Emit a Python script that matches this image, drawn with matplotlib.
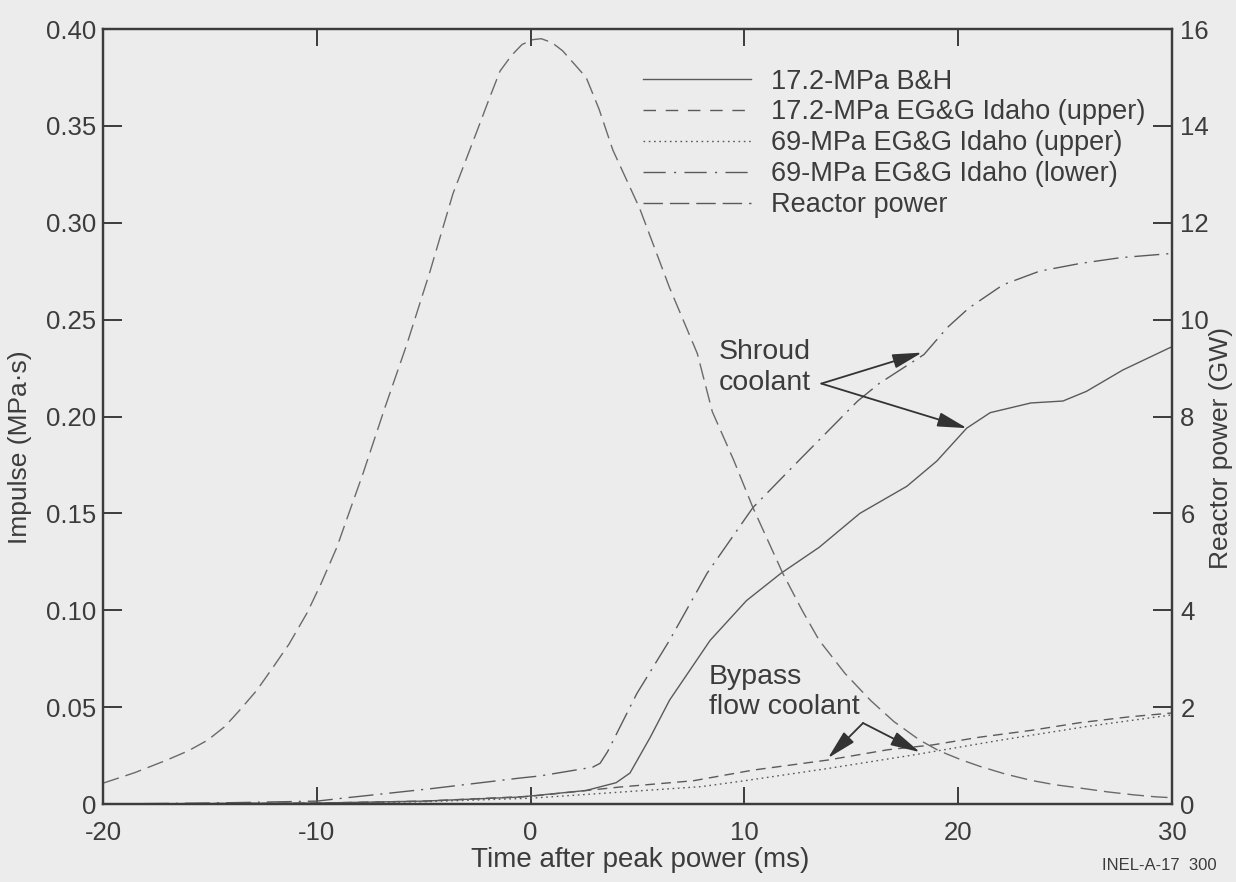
import matplotlib
matplotlib.use("Agg")
import matplotlib.pyplot as plt
from matplotlib.lines import Line2D

plt.rcParams['font.family'] = ['Liberation Sans', 'DejaVu Sans']
plt.rcParams['axes.unicode_minus'] = False

# ---------------- data ----------------
# Reactor power (GW) vs time (ms)
t_power = [-20, -18.5, -17, -16, -15.1, -14.3, -13.6, -12.8, -12.05, -11.3, -10.46,
           -9.8, -9.06, -8.5, -7.84, -6.8, -5.78, -4.7, -3.63, -2.5, -1.9, -1.43,
           -0.9, -0.4, 0.1, 0.5, 1.0, 1.5, 2.0, 2.6, 3.2, 3.85, 5.1, 6.5, 7.8, 8.5,
           9.5, 10.4, 11.8, 12.7, 13.5, 14.7, 15.9, 17.0, 18.2, 19.1, 20.1, 21.0,
           22.2, 23.4, 24.5, 25.7, 27.0, 28.2, 29.2, 30]
power_gw = [0.43, 0.65, 0.91, 1.1, 1.32, 1.6, 1.94, 2.35, 2.82, 3.3, 3.94,
            4.55, 5.3, 6.0, 6.82, 8.2, 9.5, 11.0, 12.6, 13.9, 14.6, 15.13,
            15.45, 15.68, 15.78, 15.8, 15.72, 15.55, 15.3, 15.0, 14.35, 13.5, 12.3,
            10.66, 9.3, 8.1, 7.1, 6.12, 4.76, 4.0, 3.38, 2.7, 2.14, 1.7, 1.32, 1.1,
            0.92, 0.78, 0.62, 0.49, 0.4, 0.33, 0.25, 0.19, 0.15, 0.13]

# 17.2-MPa B&H (impulse, MPa*s)
t_bh = [-20, -10, -5, -0.5, 2.6, 4.0, 4.65, 5.6, 6.5, 8.4, 10.1, 11.7, 13.5, 15.4,
        17.6, 19.0, 20.4, 21.5, 23.4, 24.9, 26.0, 27.7, 29.8, 30]
imp_bh = [0.0, 0.0005, 0.0015, 0.0036, 0.007, 0.011, 0.016, 0.0345, 0.0536, 0.0845,
          0.105, 0.119, 0.1325, 0.15, 0.164, 0.177, 0.194, 0.202, 0.207, 0.208, 0.213,
          0.224, 0.235, 0.236]

# 17.2-MPa EG&G Idaho (upper)
t_eg17 = [-20, -10, -5, 0, 4.2, 7.6, 10.4, 13.9, 16.7, 18.8, 21, 23.4, 25.7, 28, 30]
imp_eg17 = [0.0, 0.0005, 0.0015, 0.004, 0.0088, 0.012, 0.0175, 0.0227, 0.028, 0.0305,
            0.0345, 0.038, 0.042, 0.045, 0.047]

# 69-MPa EG&G Idaho (upper)
t_eg69u = [-20, -10, -5, 0, 4, 8, 10, 14, 18, 22, 26, 30]
imp_eg69u = [0.0, 0.0004, 0.0012, 0.003, 0.006, 0.009, 0.012, 0.0185, 0.0255, 0.033,
             0.040, 0.046]

# 69-MPa EG&G Idaho (lower)
t_eg69l = [-20, -15, -10, -8.8, -4.6, -0.5, 0.44, 2.9, 3.25, 3.6, 4.97, 6.5, 8.25,
           10.4, 12.7, 15.3, 16.3, 18.4, 19.5, 20.5, 22.1, 23.8, 25.7, 27.6, 29.8, 30]
imp_eg69l = [0.0, 0.0005, 0.0015, 0.003, 0.008, 0.0134, 0.0145, 0.019, 0.021, 0.027,
             0.057, 0.0845, 0.119, 0.153, 0.179, 0.208, 0.217, 0.232, 0.246, 0.256,
             0.268, 0.275, 0.279, 0.282, 0.284, 0.284]

x_ticks = [-20, -10, 0, 10, 20, 30]
x_ticklabels = ['-20', '-10', '0', '10', '20', '30']
y_ticks = [0, 0.05, 0.10, 0.15, 0.20, 0.25, 0.30, 0.35, 0.40]
y_ticklabels = ['0', '0.05', '0.10', '0.15', '0.20', '0.25', '0.30', '0.35', '0.40']
y2_ticks = [0, 2, 4, 6, 8, 10, 12, 14, 16]
y2_ticklabels = ['0', '2', '4', '6', '8', '10', '12', '14', '16']

labels = ['17.2-MPa B&H', '17.2-MPa EG&G Idaho (upper)', '69-MPa EG&G Idaho (upper)',
          '69-MPa EG&G Idaho (lower)', 'Reactor power']

# ---------------- style ----------------
bg = '#ececec'
ink = '#3c3c3c'
curve = '#5a5a5a'
lw = 1.0
ls_bh = '-'
ls_eg17 = (0, (7, 4.5))
ls_eg69u = (0, (1.2, 2.6))
ls_eg69l = (0, (18, 5, 1.5, 5))
ls_pow = (0, (12, 5))

fig = plt.figure(figsize=(12.36, 8.82), dpi=100, facecolor=bg)
ax = fig.add_axes([0.0833, 0.0884, 0.8649, 0.8787], facecolor=bg)
ax2 = ax.twinx()

ax.plot(t_bh, imp_bh, color=curve, lw=lw, ls=ls_bh)
ax.plot(t_eg17, imp_eg17, color=curve, lw=lw, ls=ls_eg17)
ax.plot(t_eg69u, imp_eg69u, color=curve, lw=lw, ls=ls_eg69u)
ax.plot(t_eg69l, imp_eg69l, color=curve, lw=lw, ls=ls_eg69l)
ax2.plot(t_power, power_gw, color='#6a6a6a', lw=lw, ls=ls_pow)

ax.set_xlim(-20, 30)
ax.set_ylim(0, 0.40)
ax2.set_ylim(0, 16)

ax.set_xticks(x_ticks)
ax.set_xticklabels(x_ticklabels)
ax.set_yticks(y_ticks)
ax.set_yticklabels(y_ticklabels)
ax2.set_yticks(y2_ticks)
ax2.set_yticklabels(y2_ticklabels)

tick_fs = 18.5
ax.tick_params(axis='x', direction='in', length=12, width=1.4, color=ink,
               labelsize=tick_fs, labelcolor=ink, pad=12, top=True)
ax.tick_params(axis='y', direction='in', length=14, width=1.4, color=ink,
               labelsize=tick_fs, labelcolor=ink, pad=5)
ax2.tick_params(axis='y', direction='in', length=14, width=1.4, color=ink,
                labelsize=tick_fs, labelcolor=ink, pad=6)

for a in (ax, ax2):
    for s in a.spines.values():
        s.set_color(ink)
        s.set_linewidth(1.6)

lab_fs = 19
ax.set_xlabel('Time after peak power (ms)', fontsize=20, color=ink)
ax.xaxis.set_label_coords(0.503, -0.056)
ax.set_ylabel('Impulse (MPa·s)', fontsize=lab_fs, color=ink)
ax.yaxis.set_label_coords(-0.066, 0.46)
ax2.set_ylabel('Reactor power (GW)', fontsize=lab_fs, color=ink)
ax2.yaxis.set_label_coords(1.035, 0.46)

# legend
handles = [Line2D([], [], color=curve, lw=lw, ls=ls_bh),
           Line2D([], [], color=curve, lw=lw, ls=(0, (9, 7))),
           Line2D([], [], color=curve, lw=lw, ls=ls_eg69u),
           Line2D([], [], color=curve, lw=lw, ls=(0, (16, 6, 1.5, 6))),
           Line2D([], [], color=curve, lw=lw, ls=(0, (14, 5)))]
leg = ax.legend(handles, labels, loc='upper left', bbox_to_anchor=(0.505, 0.949),
                frameon=False, fontsize=19.5, handlelength=4.0, handletextpad=0.75,
                labelspacing=0.18, borderpad=0, borderaxespad=0)
for txt in leg.get_texts():
    txt.set_color(ink)

# annotations
ann_fs = 20.5
ax.text(8.8, 0.2253, 'Shroud\ncoolant', fontsize=ann_fs, color=ink,
        ha='left', va='center', linespacing=1.27)
arrow_kw = dict(arrowstyle='-|>,head_length=0.9,head_width=0.22', color='#333333',
                lw=1.3, mutation_scale=20, shrinkA=0, shrinkB=0)
ax.annotate('', xy=(18.31, 0.233), xytext=(13.6, 0.217), arrowprops=arrow_kw)
ax.annotate('', xy=(20.41, 0.194), xytext=(13.6, 0.217), arrowprops=arrow_kw)

ax.text(8.35, 0.0577, 'Bypass\nflow coolant', fontsize=ann_fs, color=ink,
        ha='left', va='center', linespacing=1.2)
ax.annotate('', xy=(13.91, 0.0237), xytext=(15.55, 0.0418), arrowprops=arrow_kw)
ax.annotate('', xy=(18.21, 0.0268), xytext=(15.55, 0.0418), arrowprops=arrow_kw)

fig.text(0.938, 0.019, 'INEL-A-17  300', fontsize=12, color=ink, ha='center', va='center')

fig.savefig('out.png', dpi=100, facecolor=bg)
